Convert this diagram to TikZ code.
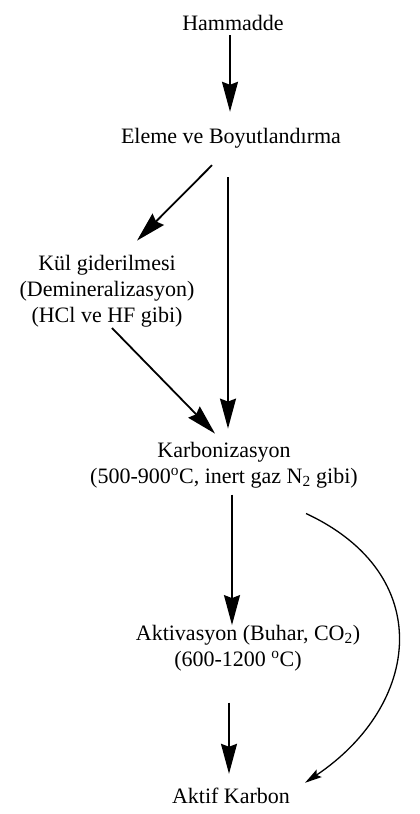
\documentclass[tikz,border=0pt]{standalone}
\usepackage{fontspec}
\setmainfont{Liberation Serif}
\usetikzlibrary{arrows.meta}
% centred block of lines whose baseline is the first line's baseline
\newcommand\nodelines[1]{\begin{tabular}[t]{@{}c@{}}#1\end{tabular}}
\begin{document}
\begin{tikzpicture}[x=1pt,y=1pt,
  lbl/.style={inner sep=0pt, anchor=base, font=\fontsize{22}{26}\selectfont},
  one/.style={lbl, text height=16pt, text depth=5pt},
  arr/.style={line width=1.8pt, -{Stealth[length=30pt,width=16pt,inset=3pt]}},
  bend arr/.style={line width=1.3pt, -{Stealth[length=17pt,width=9pt,inset=3pt]}}]
\useasboundingbox (0,0) rectangle (420,-814);

% process steps
\node[one] (ham)   at (233,-30)  {Hammadde};
\node[one] (ele)   at (231,-143) {Eleme ve Boyutlandırma};
\node[lbl] (kul)   at (107,-270) {\nodelines{Kül giderilmesi\\(Demineralizasyon)\\(HCl ve HF gibi)}};
\node[lbl] (karb)  at (224,-457) {\nodelines{Karbonizasyon\\(500-900\textsuperscript{o}C, inert gaz N\textsubscript{2} gibi)}};
\node[lbl] (akt)   at (248,-640) {\nodelines{Aktivasyon (Buhar, CO\textsubscript{2})\\(600-1200 \textsuperscript{o}C)\hspace*{20pt}}};
\node[one] (aktif) at (231,-803) {Aktif Karbon};

% flow arrows
\draw[arr] ([shift={(-3,0)}]ham.south) -- ([shift={(-1,15)}]ele.north);
\draw[arr] ([shift={(-19,-17)}]ele.south) -- ([shift={(30,11)}]kul.north);
\draw[arr] ([shift={(-3,-29)}]ele.south) -- ([shift={(4,10)}]karb.north);
\draw[arr] ([shift={(5,2)}]kul.south) -- ([shift={(-9,5)}]karb.north);
\draw[arr] ([shift={(8,-3.5)}]karb.south) -- ([shift={(-16,-3.5)}]akt.north);
\draw[arr] ([shift={(-19,-28.5)}]akt.south) -- ([shift={(-2,13)}]aktif.north);

% direct route from carbonisation to the product
\draw[bend arr] ([shift={(82,-22.5)}]karb.south)
  .. controls +(131,-61) and +(116,78) .. ([shift={(74,4)}]aktif.north);
\end{tikzpicture}
\end{document}
